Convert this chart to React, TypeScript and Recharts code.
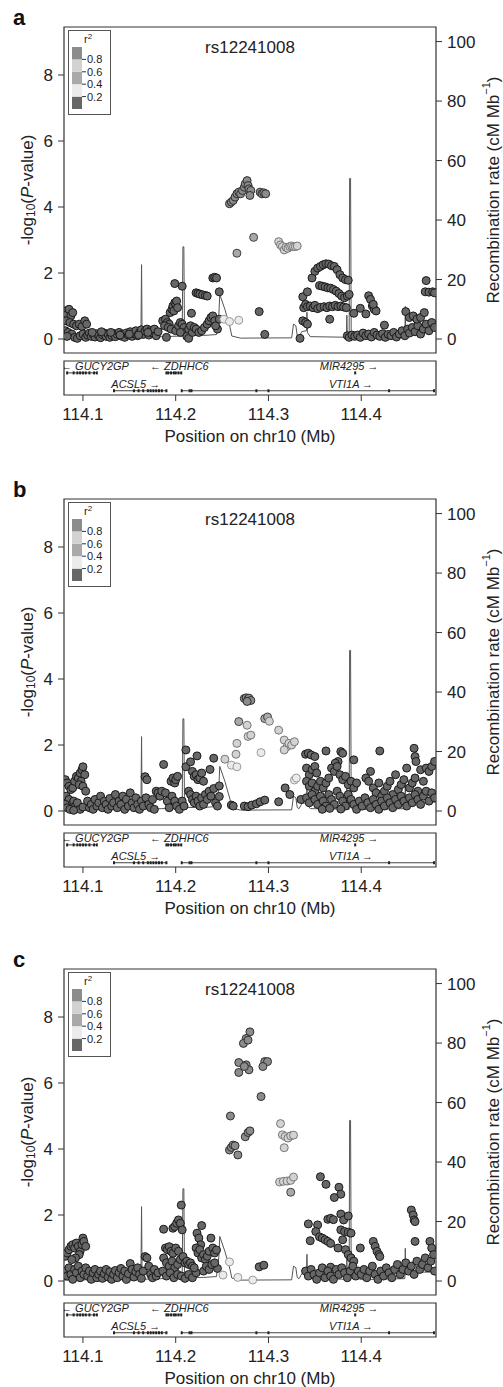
import { ComposedChart, Scatter, Line, XAxis, YAxis, ReferenceArea, ReferenceLine, Label } from 'recharts';

const FONT = '"Liberation Sans", Arial, Helvetica, sans-serif';

// axis ranges (Mb on x, -log10 P on the left, cM/Mb on the right)
const X_MIN = 114.0796;
const X_MAX = 114.4806;
const P_DOMAIN = [-0.424, 9.455];
const R_DOMAIN = [-4.7, 104.9];
const X_TICKS = [114.1, 114.2, 114.3, 114.4];
const P_TICKS = [0, 2, 4, 6, 8];
const R_TICKS = [0, 20, 40, 60, 80, 100];
const TITLE = 'rs12241008';

// r2 legend classes, bottom to top
const LD_BREAKS = [0.2, 0.4, 0.6, 0.8];
const LD_FILL = ['#676767', '#ebebeb', '#a9a9a9', '#d2d2d2', '#8c8c8c'];
const LD_STROKE = ['#1a1a1a', '#9a9a9a', '#404040', '#777777', '#2e2e2e'];

// recombination rate (cM/Mb)
const RECOMB = [
  [114.0796, 0.3], [114.1, 0.4], [114.15, 0.5], [114.1625, 0.6], [114.1632, 25], [114.1638, 0.6],
  [114.185, 0.8], [114.207, 1], [114.2078, 31], [114.2088, 31], [114.2095, 1.2], [114.23, 1.2],
  [114.244, 1.5], [114.2465, 8], [114.2475, 15], [114.253, 10], [114.2585, 4], [114.2605, 1],
  [114.27, 0.3], [114.325, 0.4], [114.327, 5], [114.3295, 4.5], [114.331, 1.2], [114.333, 0.8],
  [114.336, 2.5], [114.341, 2.8], [114.3415, 9], [114.342, 2.2], [114.345, 0.8], [114.384, 0.6],
  [114.3845, 8], [114.385, 0.6], [114.387, 0.6], [114.3875, 54], [114.3885, 54], [114.3892, 1],
  [114.395, 1], [114.4, 0.5], [114.447, 0.8], [114.4475, 11], [114.448, 2], [114.45, 2.5],
  [114.465, 3], [114.4806, 3],
];

// genes
const GENE_NAMES = ['GUCY2GP', 'ZDHHC6', 'MIR4295', 'ACSL5', 'VTI1A'];
const GENE_STRAND = ['-', '-', '+', '+', '+'];
const GENE_START = [114.0828, 114.19, 114.3932, 114.1335, 114.2065];
const GENE_END = [114.1151, 114.206, 114.3937, 114.19, 114.4785];
const GENE_ROW = [1.3, 1.3, 1.3, 0.25, 0.25];
const GENE_LABEL_X = [114.113, 114.204, 114.387, 114.157, 114.389];
const GENE_EXONS = [
  [114.083, 114.09, 114.094, 114.097, 114.1, 114.103, 114.107, 114.112, 114.115],
  [114.19, 114.192, 114.195, 114.198, 114.2, 114.203, 114.206],
  [114.3935],
  [114.1335, 114.155, 114.16, 114.165, 114.17, 114.173, 114.176, 114.179, 114.182, 114.185, 114.19],
  [114.2065, 114.215, 114.217, 114.287, 114.3, 114.43, 114.4785],
];

// ---- panel a ----
const A_R0 = [
  [114.081, 0.85], [114.083, 0.75], [114.085, 0.9], [114.087, 0.7], [114.089, 0.8], [114.082, 0.55], [114.086, 0.5],
  [114.09, 0.45], [114.093, 0.4], [114.096, 0.45], [114.099, 0.38], [114.102, 0.55], [114.104, 0.45], [114.081, 0.25],
  [114.084, 0.2], [114.088, 0.15], [114.091, 0.05], [114.083, 0.08], [114.094, 0.02], [114.097, 0.1], [114.1, 0.15],
  [114.103, 0.05], [114.105, 0.12], [114.107, 0.18], [114.109, 0.08], [114.111, 0.14], [114.113, 0.06], [114.115, 0.16],
  [114.117, 0.1], [114.119, 0.04], [114.121, 0.13], [114.123, 0.18], [114.125, 0.08], [114.127, 0.15], [114.129, 0.05],
  [114.131, 0.11], [114.133, 0.17], [114.135, 0.07], [114.137, 0.14], [114.139, 0.2], [114.141, 0.09], [114.143, 0.15],
  [114.145, 0.05], [114.147, 0.18], [114.149, 0.12], [114.151, 0.22], [114.153, 0.08], [114.155, 0.16], [114.157, 0.25],
  [114.159, 0.1], [114.161, 0.2], [114.163, 0.28], [114.165, 0.14], [114.167, 0.24], [114.169, 0.3], [114.171, 0.12],
  [114.173, 0.26], [114.175, 0.18], [114.177, 0.3], [114.179, 0.1], [114.181, 0.22], [114.11, 0.2], [114.12, 0.22],
  [114.13, 0.2], [114.14, 0.12], [114.15, 0.15], [114.16, 0.12], [114.17, 0.2], [114.19, 0.05], [114.186, 0.55],
  [114.189, 0.6], [114.191, 0.5], [114.193, 0.45], [114.188, 0.4], [114.192, 0.35], [114.194, 0.8], [114.196, 0.9],
  [114.197, 1.0], [114.199, 1.1], [114.2, 1.05], [114.201, 1.15], [114.198, 0.85], [114.202, 0.95], [114.199, 1.68],
  [114.207, 1.6], [114.195, 0.3], [114.2, 0.25], [114.203, 0.4], [114.205, 0.5], [114.207, 0.45], [114.209, 0.35],
  [114.21, 0.2], [114.205, 0.2], [114.212, 0.08], [114.214, 0.02], [114.217, 0.78], [114.214, 0.3], [114.216, 0.4],
  [114.218, 0.2], [114.22, 0.35], [114.222, 1.4], [114.224, 1.38], [114.226, 1.36], [114.229, 1.34], [114.232, 1.32],
  [114.234, 1.3], [114.222, 0.3], [114.225, 0.2], [114.228, 0.25], [114.231, 0.35], [114.234, 0.45], [114.236, 0.55],
  [114.238, 0.65], [114.24, 0.7], [114.242, 0.55], [114.24, 1.85], [114.242, 1.87], [114.244, 1.85], [114.247, 1.43],
  [114.245, 0.3], [114.243, 0.4], [114.247, 0.6], [114.29, 0.83], [114.296, 0.14], [114.334, 0.02],
  [114.337, 1.28], [114.342, 1.43], [114.337, 0.55], [114.34, 0.5], [114.342, 0.45], [114.338, 0.95], [114.34, 1.05],
  [114.342, 0.98], [114.345, 1.0], [114.348, 0.95], [114.35, 1.02], [114.353, 0.92], [114.356, 0.96], [114.36, 0.98],
  [114.363, 0.95], [114.366, 1.0], [114.369, 0.98], [114.372, 1.02], [114.375, 0.98], [114.378, 1.0], [114.381, 0.97],
  [114.384, 0.95], [114.347, 1.85], [114.35, 2.05], [114.353, 2.15], [114.356, 2.2], [114.359, 2.25], [114.362, 2.28],
  [114.365, 2.27], [114.368, 2.22], [114.371, 2.2], [114.374, 2.1], [114.377, 1.95], [114.38, 1.85], [114.383, 1.8],
  [114.386, 1.78], [114.355, 1.62], [114.358, 1.6], [114.361, 1.58], [114.364, 1.55], [114.367, 1.54], [114.37, 1.5],
  [114.373, 1.45], [114.376, 1.38], [114.379, 1.3], [114.382, 1.25], [114.385, 1.3], [114.387, 1.35], [114.366, 0.6],
  [114.385, 0.1], [114.387, 0.05], [114.39, 0.12], [114.392, 0.78], [114.399, 0.93], [114.405, 0.76], [114.408, 1.31],
  [114.41, 1.2], [114.412, 1.0], [114.414, 0.9], [114.416, 0.85], [114.413, 1.05], [114.425, 0.42], [114.393, 0.08],
  [114.396, 0.12], [114.399, 0.05], [114.402, 0.18], [114.405, 0.1], [114.408, 0.15], [114.411, 0.06], [114.414, 0.2],
  [114.417, 0.12], [114.42, 0.08], [114.423, 0.16], [114.426, 0.05], [114.429, 0.14], [114.432, 0.1], [114.435, 0.2],
  [114.438, 0.06], [114.441, 0.15], [114.444, 0.25], [114.447, 0.1], [114.45, 0.3], [114.452, 0.18], [114.455, 0.35],
  [114.458, 0.22], [114.461, 0.4], [114.464, 0.15], [114.467, 0.3], [114.47, 0.45], [114.473, 0.25], [114.476, 0.5],
  [114.479, 0.35], [114.448, 0.83], [114.452, 0.65], [114.456, 0.7], [114.46, 0.6], [114.464, 0.65], [114.468, 0.8],
  [114.47, 1.77], [114.469, 1.43], [114.473, 1.42], [114.477, 1.43], [114.479, 1.4],
];
const A_R2 = [[114.252, 0.6], [114.258, 0.53], [114.268, 0.57]];
const A_R4 = [[114.266, 2.6], [114.284, 3.08]];
const A_R6 = [
  [114.311, 2.95], [114.313, 2.85], [114.315, 2.8], [114.317, 2.7], [114.319, 2.78], [114.321, 2.75],
  [114.323, 2.8], [114.325, 2.82], [114.327, 2.8], [114.329, 2.8], [114.331, 2.82],
];
const A_R8 = [
  [114.258, 4.1], [114.26, 4.15], [114.262, 4.2], [114.264, 4.3], [114.266, 4.4], [114.268, 4.45], [114.27, 4.4],
  [114.272, 4.5], [114.274, 4.6], [114.275, 4.7], [114.277, 4.8], [114.278, 4.65], [114.279, 4.55], [114.281, 4.5],
  [114.28, 4.35], [114.291, 4.45], [114.293, 4.4], [114.295, 4.43], [114.297, 4.4],
];

// ---- panel b ----
const B_R0 = [
  [114.081, 0.95], [114.083, 0.85], [114.085, 0.75], [114.087, 0.65], [114.089, 0.7], [114.091, 0.9], [114.093, 1.05],
  [114.095, 1.0], [114.097, 1.15], [114.099, 1.25], [114.1, 1.34], [114.102, 1.1], [114.098, 0.9], [114.096, 0.8],
  [114.1, 0.75], [114.103, 0.6], [114.082, 0.45], [114.085, 0.35], [114.088, 0.2], [114.09, 0.3], [114.092, 0.15],
  [114.094, 0.25], [114.097, 0.05], [114.1, 0.12], [114.081, 0.2], [114.083, 0.1], [114.086, 0.05], [114.09, 0.02],
  [114.105, 0.3], [114.107, 0.1], [114.109, 0.2], [114.111, 0.05], [114.113, 0.35], [114.115, 0.15], [114.117, 0.25],
  [114.119, 0.45], [114.121, 0.1], [114.123, 0.3], [114.125, 0.2], [114.127, 0.05], [114.129, 0.38], [114.131, 0.15],
  [114.133, 0.25], [114.135, 0.5], [114.137, 0.1], [114.139, 0.3], [114.141, 0.2], [114.143, 0.45], [114.145, 0.05],
  [114.147, 0.35], [114.149, 0.15], [114.151, 0.55], [114.153, 0.25], [114.155, 0.1], [114.157, 0.4], [114.159, 0.2],
  [114.161, 0.05], [114.163, 0.3], [114.165, 0.15], [114.167, 1.04], [114.169, 0.95], [114.168, 0.4], [114.171, 0.2],
  [114.173, 0.1], [114.175, 0.35], [114.177, 0.05], [114.179, 0.6], [114.181, 0.55], [114.183, 0.45], [114.185, 0.6],
  [114.187, 1.41], [114.189, 0.55], [114.191, 0.3], [114.193, 0.1], [114.195, 0.9], [114.197, 1.0], [114.199, 0.85],
  [114.2, 0.95], [114.202, 1.05], [114.196, 0.45], [114.199, 0.3], [114.201, 0.15], [114.204, 0.05], [114.207, 0.3],
  [114.209, 0.15], [114.211, 1.85], [114.211, 1.34], [114.216, 1.49], [114.223, 1.67], [114.218, 1.2], [114.22, 1.05],
  [114.222, 1.1], [114.224, 0.95], [114.226, 1.0], [114.228, 1.15], [114.23, 0.9], [114.214, 0.6], [114.216, 0.5],
  [114.218, 0.35], [114.22, 0.25], [114.222, 0.45], [114.224, 0.3], [114.226, 0.15], [114.228, 0.4], [114.23, 0.2],
  [114.232, 0.5], [114.234, 0.35], [114.236, 0.6], [114.238, 0.45], [114.237, 1.26], [114.241, 1.6], [114.241, 0.68],
  [114.243, 0.25], [114.245, 0.15], [114.247, 0.76], [114.247, 0.44], [114.26, 0.18], [114.262, 0.15], [114.274, 0.15],
  [114.278, 0.13], [114.282, 0.18], [114.287, 0.22], [114.291, 0.28], [114.296, 0.33], [114.311, 0.28], [114.318, 0.7],
  [114.323, 0.5], [114.335, 0.35], [114.34, 1.72], [114.343, 1.75], [114.346, 1.7], [114.35, 1.65], [114.362, 1.82],
  [114.378, 1.8], [114.392, 1.55], [114.38, 1.75], [114.375, 1.5], [114.372, 1.45], [114.341, 1.3], [114.344, 1.1],
  [114.347, 1.25], [114.35, 1.35], [114.352, 1.15], [114.341, 0.9], [114.344, 0.75], [114.347, 0.85], [114.35, 0.6],
  [114.353, 0.75], [114.356, 0.9], [114.359, 0.7], [114.362, 0.85], [114.365, 1.0], [114.368, 1.3], [114.371, 1.2],
  [114.374, 1.35], [114.377, 1.1], [114.38, 0.95], [114.383, 1.05], [114.386, 0.8], [114.389, 0.9], [114.392, 0.7],
  [114.395, 0.85], [114.341, 0.4], [114.344, 0.25], [114.347, 0.5], [114.35, 0.35], [114.353, 0.2], [114.356, 0.45],
  [114.359, 0.3], [114.362, 0.15], [114.365, 0.5], [114.368, 0.35], [114.371, 0.2], [114.374, 0.6], [114.377, 0.45],
  [114.38, 0.3], [114.383, 0.15], [114.386, 0.5], [114.389, 0.35], [114.392, 0.2], [114.395, 0.05], [114.358, 0.05],
  [114.366, 0.08], [114.378, 0.06], [114.42, 1.82], [114.457, 1.9], [114.458, 1.65], [114.459, 1.5], [114.405, 1.0],
  [114.408, 0.9], [114.41, 1.2], [114.413, 0.7], [114.416, 0.55], [114.419, 0.85], [114.422, 0.45], [114.425, 0.6],
  [114.428, 0.75], [114.431, 0.9], [114.434, 0.5], [114.437, 1.1], [114.44, 0.65], [114.443, 0.8], [114.446, 0.95],
  [114.449, 1.3], [114.452, 0.7], [114.455, 0.85], [114.458, 1.0], [114.461, 0.6], [114.464, 1.25], [114.467, 0.9],
  [114.47, 1.3], [114.473, 1.2], [114.476, 1.35], [114.479, 1.5], [114.398, 0.3], [114.401, 0.15], [114.404, 0.4],
  [114.407, 0.25], [114.41, 0.1], [114.413, 0.35], [114.416, 0.2], [114.419, 0.05], [114.422, 0.3], [114.425, 0.15],
  [114.428, 0.4], [114.431, 0.25], [114.434, 0.1], [114.437, 0.35], [114.44, 0.2], [114.443, 0.45], [114.446, 0.3],
  [114.449, 0.15], [114.452, 0.4], [114.455, 0.25], [114.458, 0.5], [114.461, 0.35], [114.464, 0.2], [114.467, 0.45],
  [114.47, 0.6], [114.473, 0.3], [114.476, 0.55], [114.479, 0.4],
];
const B_R2 = [[114.328, 0.94], [114.33, 1.0], [114.26, 1.39], [114.266, 1.34], [114.292, 1.77]];
const B_R4 = [[114.268, 2.71], [114.296, 2.8], [114.299, 2.85]];
const B_R6 = [
  [114.253, 1.57], [114.265, 1.72], [114.266, 2.05], [114.277, 2.6], [114.278, 2.26], [114.281, 2.3], [114.301, 2.72],
  [114.311, 2.45], [114.317, 2.15], [114.32, 1.95], [114.322, 2.05], [114.325, 2.0], [114.328, 2.1], [114.317, 1.85],
];
const B_R8 = [[114.274, 3.41], [114.276, 3.43], [114.278, 3.38], [114.279, 3.42], [114.281, 3.35], [114.277, 3.32]];

// ---- panel c ----
const C_R0 = [
  [114.081, 0.75], [114.083, 0.85], [114.085, 0.95], [114.087, 1.05], [114.089, 1.1], [114.091, 1.0], [114.093, 1.15],
  [114.095, 1.05], [114.097, 0.9], [114.099, 1.1], [114.1, 1.3], [114.101, 1.2], [114.103, 1.05], [114.096, 0.8],
  [114.092, 0.7], [114.088, 0.65], [114.081, 0.3], [114.083, 0.15], [114.085, 0.4], [114.087, 0.2], [114.089, 0.05],
  [114.091, 0.35], [114.093, 0.25], [114.095, 0.45], [114.097, 0.1], [114.099, 0.3], [114.101, 0.2], [114.103, 0.4],
  [114.105, 0.15], [114.107, 0.3], [114.109, 0.05], [114.111, 0.25], [114.113, 0.35], [114.115, 0.1], [114.117, 0.2],
  [114.119, 0.3], [114.121, 0.08], [114.123, 0.22], [114.125, 0.35], [114.127, 0.12], [114.129, 0.28], [114.131, 0.05],
  [114.133, 0.2], [114.135, 0.32], [114.137, 0.1], [114.139, 0.25], [114.141, 0.38], [114.143, 0.15], [114.145, 0.3],
  [114.147, 0.05], [114.149, 0.22], [114.151, 0.53], [114.153, 0.35], [114.155, 0.12], [114.157, 0.28], [114.159, 0.4],
  [114.161, 0.2], [114.163, 0.08], [114.165, 0.3], [114.167, 0.74], [114.169, 0.7], [114.171, 0.45], [114.173, 0.2],
  [114.175, 0.1], [114.177, 0.35], [114.179, 0.15], [114.181, 0.25], [114.187, 1.57], [114.189, 1.0], [114.191, 0.95],
  [114.193, 1.04], [114.195, 0.9], [114.197, 1.6], [114.199, 1.65], [114.201, 1.75], [114.203, 1.85], [114.205, 1.75],
  [114.207, 1.55], [114.206, 2.3], [114.197, 0.84], [114.2, 1.0], [114.203, 0.9], [114.187, 0.7], [114.19, 0.55],
  [114.193, 0.45], [114.196, 0.6], [114.199, 0.4], [114.202, 0.5], [114.205, 0.65], [114.208, 0.74], [114.21, 0.55],
  [114.212, 0.6], [114.214, 0.5], [114.216, 0.55], [114.218, 0.45], [114.186, 0.3], [114.19, 0.15], [114.194, 0.25],
  [114.198, 0.1], [114.202, 0.2], [114.206, 0.15], [114.21, 0.08], [114.214, 0.2], [114.218, 0.1], [114.222, 0.25],
  [114.228, 1.68], [114.223, 1.45], [114.225, 1.3], [114.227, 1.1], [114.222, 1.0], [114.224, 0.85], [114.226, 0.95],
  [114.228, 0.7], [114.23, 0.8], [114.232, 0.65], [114.234, 0.75], [114.236, 0.9], [114.238, 1.3], [114.24, 1.0],
  [114.242, 0.85], [114.244, 0.94], [114.245, 0.38], [114.23, 0.3], [114.233, 0.45], [114.236, 0.35], [114.239, 0.5],
  [114.242, 0.55], [114.22, 0.4], [114.29, 0.43], [114.295, 0.48], [114.356, 3.16], [114.362, 2.93], [114.376, 2.84],
  [114.378, 2.63], [114.371, 2.53], [114.378, 2.03], [114.381, 1.85], [114.386, 1.97], [114.364, 1.87], [114.367, 1.9],
  [114.37, 1.86], [114.343, 1.73], [114.353, 1.7], [114.351, 1.5], [114.355, 1.34], [114.358, 1.3], [114.361, 1.25],
  [114.364, 1.2], [114.367, 1.14], [114.345, 1.22], [114.378, 1.55], [114.382, 1.5], [114.386, 1.48], [114.389, 1.45],
  [114.38, 1.25], [114.375, 1.0], [114.383, 0.95], [114.386, 0.8], [114.389, 0.7], [114.392, 0.6], [114.367, 0.42],
  [114.34, 0.3], [114.343, 0.15], [114.346, 0.35], [114.349, 0.2], [114.352, 0.05], [114.355, 0.25], [114.358, 0.4],
  [114.361, 0.1], [114.364, 0.3], [114.367, 0.15], [114.37, 0.05], [114.373, 0.35], [114.376, 0.2], [114.379, 0.4],
  [114.382, 0.25], [114.385, 0.1], [114.388, 0.3], [114.391, 0.45], [114.394, 0.15], [114.397, 0.3], [114.399, 1.0],
  [114.413, 1.2], [114.415, 1.05], [114.417, 0.9], [114.419, 0.8], [114.42, 0.74], [114.454, 2.15], [114.456, 2.0],
  [114.457, 1.85], [114.458, 1.8], [114.458, 1.2], [114.474, 1.2], [114.476, 1.0], [114.4, 0.2], [114.403, 0.35],
  [114.406, 0.1], [114.409, 0.3], [114.412, 0.45], [114.415, 0.2], [114.418, 0.05], [114.421, 0.3], [114.424, 0.15],
  [114.427, 0.4], [114.43, 0.25], [114.433, 0.1], [114.436, 0.35], [114.439, 0.5], [114.442, 0.2], [114.445, 0.35],
  [114.448, 0.55], [114.451, 0.3], [114.454, 0.45], [114.457, 0.2], [114.46, 0.6], [114.463, 0.35], [114.466, 0.5],
  [114.469, 0.7], [114.472, 0.4], [114.475, 0.6], [114.478, 0.8], [114.479, 0.3],
];
const C_R2 = [[114.251, 0.18], [114.258, 0.58], [114.267, 0.11], [114.283, 0.03]];
const C_R4 = [[114.324, 2.69]];
const C_R6 = [
  [114.313, 4.77], [114.315, 4.43], [114.318, 4.38], [114.321, 4.33], [114.324, 4.4], [114.327, 4.42], [114.317, 4.04],
  [114.312, 3.0], [114.316, 3.02], [114.32, 3.03], [114.324, 3.05], [114.327, 3.15],
];
const C_R8 = [
  [114.28, 7.55], [114.276, 7.35], [114.273, 7.2], [114.278, 7.3], [114.268, 6.62], [114.268, 6.32], [114.276, 6.55],
  [114.279, 6.4], [114.274, 6.5], [114.296, 6.65], [114.299, 6.65], [114.294, 6.5], [114.292, 5.59], [114.259, 5.0],
  [114.258, 3.97], [114.26, 4.05], [114.262, 4.12], [114.264, 4.1], [114.267, 3.82], [114.275, 4.37], [114.278, 4.5],
  [114.28, 4.55],
];

const toPts = (arr: number[][]) => arr.map(([x, y]) => ({ x, y }));
const recombData = RECOMB.map(([x, rate]) => ({ x, rate }));

const dot = (i: number) => (props: any) => (
  <circle cx={props.cx} cy={props.cy} r={4} fill={LD_FILL[i]} stroke={LD_STROKE[i]} strokeWidth={1} />
);

function LdLegend() {
  const segH = 12.4;
  return (
    <div style={{ position: 'absolute', left: 68, top: 30, width: 43, height: 85, border: '1px solid #555', boxSizing: 'border-box', background: '#fff' }}>
      <svg width={43} height={85} style={{ position: 'absolute', left: -1, top: -1 }}>
        <text x={16} y={13} fontSize={11} fontFamily={FONT} fill="#222">
          r<tspan dy={-4} fontSize={8}>2</tspan>
        </text>
        {LD_FILL.map((c, i) => (
          <rect key={i} x={4} y={17 + (4 - i) * segH} width={10} height={segH} fill={c} />
        ))}
        {LD_BREAKS.map((b, i) => {
          const y = 17 + (4 - i - 1) * segH + segH;
          return (
            <g key={b}>
              <line x1={14} x2={18} y1={y} y2={y} stroke="#333" />
              <text x={19} y={y + 4} fontSize={11} fontFamily={FONT} fill="#222">{b.toFixed(1)}</text>
            </g>
          );
        })}
      </svg>
    </div>
  );
}

const yLabelLeft = (props: any) => {
  const vb = props.viewBox;
  const x = vb.x + 27;
  const y = vb.y + vb.height / 2;
  return (
    <text x={x} y={y} transform={`rotate(-90 ${x} ${y})`} textAnchor="middle" dominantBaseline="central" fontSize={17} fontFamily={FONT} fill="#222">
      -log<tspan dy={4} fontSize={12}>10</tspan><tspan dy={-4}>(</tspan><tspan fontStyle="italic">P</tspan>-value)
    </text>
  );
};

const yLabelRight = (props: any) => {
  const vb = props.viewBox;
  const x = vb.x + 57;
  const y = vb.y + vb.height / 2;
  return (
    <text x={x} y={y} transform={`rotate(-90 ${x} ${y})`} textAnchor="middle" dominantBaseline="central" fontSize={17} fontFamily={FONT} fill="#222">
      Recombination rate (cM Mb<tspan dy={-7} fontSize={11}>−1</tspan><tspan dy={7}>)</tspan>
    </text>
  );
};

const tickStyle = { fontSize: 17, fill: '#222', fontFamily: FONT };

function GeneTrack() {
  const labels = GENE_NAMES.map((name, i) => ({
    x: GENE_LABEL_X[i],
    y: GENE_ROW[i],
    text: GENE_STRAND[i] === '-' ? `← ${name}` : `${name} →`,
  }));
  const exons = GENE_EXONS.flatMap((list, i) => list.map((x) => ({ x, y: GENE_ROW[i] })));
  return (
    <ComposedChart width={503} height={90} margin={{ top: 3, right: 67, bottom: 0, left: 64 }}>
      <XAxis
        type="number"
        dataKey="x"
        domain={[X_MIN, X_MAX]}
        allowDataOverflow
        ticks={X_TICKS}
        tickFormatter={(v: number) => v.toFixed(1)}
        axisLine={false}
        tickSize={6}
        tickMargin={7}
        tick={tickStyle}
        tickLine={{ stroke: '#333' }}
        height={53}
      >
        <Label value="Position on chr10 (Mb)" position="insideBottom" offset={6} style={{ fontSize: 17, fill: '#222', fontFamily: FONT }} />
      </XAxis>
      <YAxis type="number" dataKey="y" domain={[0, 2]} hide allowDataOverflow />
      <ReferenceArea x1={X_MIN} x2={X_MAX} y1={0} y2={2} fill="none" stroke="#333" strokeWidth={1.2} />
      {GENE_NAMES.map((name, i) => (
        <ReferenceLine
          key={name}
          segment={[{ x: GENE_START[i], y: GENE_ROW[i] }, { x: GENE_END[i], y: GENE_ROW[i] }]}
          stroke="#444"
          strokeWidth={1}
        />
      ))}
      <Scatter
        data={exons}
        isAnimationActive={false}
        shape={(p: any) => <rect x={p.cx - 1} y={p.cy - 1.5} width={2} height={3} fill="#222" />}
      />
      <Scatter
        data={labels}
        isAnimationActive={false}
        shape={(p: any) => (
          <text x={p.cx} y={p.cy - 3} textAnchor="middle" fontSize={11} fontStyle="italic" fontFamily={FONT} fill="#222">
            {p.payload.text}
          </text>
        )}
      />
    </ComposedChart>
  );
}

function Panel({ top, letter, series }: { top: number; letter: string; series: number[][][] }) {
  return (
    <div style={{ position: 'absolute', left: 0, top, width: 503, height: 470 }}>
      <div style={{ position: 'absolute', left: 13, top: 5, fontSize: 22, fontWeight: 'bold', fontFamily: FONT, color: '#111' }}>{letter}</div>
      <ComposedChart width={503} height={360} margin={{ top: 27, right: 0, bottom: 7, left: 0 }}>
        <XAxis type="number" dataKey="x" domain={[X_MIN, X_MAX]} allowDataOverflow hide />
        <YAxis
          yAxisId="p"
          type="number"
          dataKey="y"
          domain={P_DOMAIN}
          allowDataOverflow
          ticks={P_TICKS}
          width={64}
          axisLine={false}
          tickSize={6}
          tickMargin={5}
          tick={tickStyle}
          tickLine={{ stroke: '#333' }}
        >
          <Label content={yLabelLeft} />
        </YAxis>
        <YAxis
          yAxisId="r"
          orientation="right"
          type="number"
          dataKey="rate"
          domain={R_DOMAIN}
          allowDataOverflow
          ticks={R_TICKS}
          width={67}
          axisLine={false}
          tickSize={6}
          tickMargin={5}
          tick={tickStyle}
          tickLine={{ stroke: '#333' }}
        >
          <Label content={yLabelRight} />
        </YAxis>
        <ReferenceArea yAxisId="p" x1={X_MIN} x2={X_MAX} y1={P_DOMAIN[0]} y2={P_DOMAIN[1]} fill="none" stroke="#333" strokeWidth={1.2} />
        {series.map((pts, i) => (
          <Scatter key={i} yAxisId="p" data={toPts(pts)} isAnimationActive={false} shape={dot(i)} />
        ))}
        <Line yAxisId="r" data={recombData} dataKey="rate" type="linear" stroke="#555" strokeWidth={1} dot={false} isAnimationActive={false} />
      </ComposedChart>
      <div style={{ position: 'absolute', left: 150, top: 38, width: 200, textAlign: 'center', fontSize: 17, fontFamily: FONT, color: '#222' }}>{TITLE}</div>
      <LdLegend />
      <div style={{ position: 'absolute', left: 0, top: 358 }}>
        <GeneTrack />
      </div>
    </div>
  );
}

export default function App() {
  return (
    <div style={{ position: 'absolute', left: 0, top: 0, width: 503, height: 1387, background: '#fff', overflow: 'hidden' }}>
      <Panel top={0} letter="a" series={[A_R0, A_R2, A_R4, A_R6, A_R8]} />
      <Panel top={472} letter="b" series={[B_R0, B_R2, B_R4, B_R6, B_R8]} />
      <Panel top={942} letter="c" series={[C_R0, C_R2, C_R4, C_R6, C_R8]} />
    </div>
  );
}
